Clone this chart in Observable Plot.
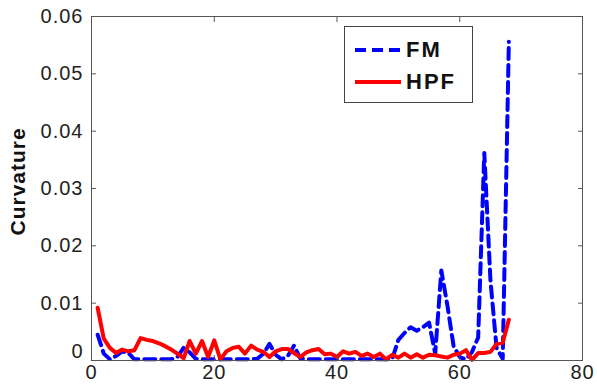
<!DOCTYPE html>
<html>
<head>
<meta charset="utf-8">
<script src="https://cdn.jsdelivr.net/npm/d3@7"></script>
<script src="https://cdn.jsdelivr.net/npm/@observablehq/plot@0.6"></script>
<style>
  body { margin: 0; background: #fff; }
  #wrap { position: relative; width: 597px; height: 388px; }
  #legend { position: absolute; left: 344px; top: 26px; width: 129px; height: 77px;
    border: 1px solid #444; background: #fff; box-sizing: border-box;
    font-family: "Liberation Sans", Arial, sans-serif; font-weight: bold; font-size: 22px; letter-spacing: 2px; color: #111; }
  .row { position: absolute; left: 10px; height: 24px; display: flex; align-items: center; }
  .row svg { margin-right: 5px; }
</style>
</head>
<body>
<div id="wrap"></div>
<script>
const xIndex = [1,2,3,4,5,6,7,8,9,10,11,12,13,14,15,16,17,18,19,20,21,22,23,24,25,26,27,28,29,30,31,32,33,34,35,36,37,38,39,40,41,42,43,44,45,46,47,48,49,50,51,52,53,54,55,56,57,58,59,60,61,62,63,64,65,66,67,68];
const fmValues = [0.0045,0.0012,0.0002,0.0008,0.0016,0.0013,0.0002,0.0002,0.0002,0.0002,0.0002,0.0002,0.0002,0.0006,0.0022,0.0014,0.0003,0.0002,0.0002,0.0002,0.0002,0.0002,0.0002,0.0002,0.0002,0.0002,0.0003,0.0012,0.0029,0.0010,0.0002,0.0008,0.0026,0.0004,0.0002,0.0002,0.0002,0.0002,0.0002,0.0002,0.0002,0.0002,0.0002,0.0002,0.0002,0.0002,0.0002,0.0002,0.0003,0.0036,0.0048,0.0058,0.0052,0.0058,0.0066,0.0012,0.0157,0.0095,0.0025,0.0006,0.0002,0.0015,0.0040,0.0362,0.0140,0.0022,0.0003,0.0556];
const hpfValues = [0.0092,0.0038,0.0022,0.0013,0.0019,0.0016,0.0018,0.0039,0.0036,0.0034,0.0030,0.0025,0.0019,0.0012,0.0004,0.0034,0.0012,0.0034,0.0006,0.0035,0.0002,0.0016,0.0022,0.0024,0.0012,0.0026,0.0019,0.0015,0.0006,0.0016,0.0020,0.0020,0.0013,0.0006,0.0014,0.0018,0.0020,0.0011,0.0012,0.0006,0.0016,0.0012,0.0015,0.0008,0.0012,0.0006,0.0012,0.0002,0.0010,0.0005,0.0012,0.0005,0.0011,0.0005,0.0010,0.0009,0.0007,0.0005,0.0010,0.0012,0.0018,0.0001,0.0013,0.0013,0.0015,0.0029,0.0031,0.0071];
const xTicks = [0,20,40,60,80];
const yTicks = [0.01,0.02,0.03,0.04,0.05,0.06];
const yZeroTick = [0];
const seriesNames = ["FM","HPF"];
const yLabel = "Curvature";

const fm = xIndex.map((x,i)=>({x, y: fmValues[i]}));
const hpf = xIndex.map((x,i)=>({x, y: hpfValues[i]}));

const axisColor = "#555";
const chart = Plot.plot({
  width: 597, height: 388,
  marginLeft: 91, marginRight: 15, marginTop: 16, marginBottom: 28,
  x: {domain: [0,80]},
  y: {domain: [0,0.06]},
  style: {fontFamily: "'Liberation Sans', Arial, sans-serif", fontSize: "20px", color: "#222", background: "#fff", letterSpacing: "1px"},
  marks: [
    Plot.line(fm, {x:"x", y:"y", stroke:"#0000ff", strokeWidth:4, strokeDasharray:"11,6", strokeLinejoin:"round"}),
    Plot.line(hpf, {x:"x", y:"y", stroke:"#ff0000", strokeWidth:4, strokeLinejoin:"round"}),
    Plot.frame({stroke: axisColor}),
    Plot.axisX(xTicks, {anchor:"bottom", tickSize:0, tickPadding:4, label:null, stroke:axisColor}),
    Plot.axisX(xTicks, {anchor:"bottom", tickSize:-5, tickFormat:()=>"", label:null, stroke:axisColor}),
    Plot.axisX(xTicks, {anchor:"top", tickSize:-5, tickFormat:()=>"", label:null, stroke:axisColor}),
    Plot.axisY(yTicks, {anchor:"left", tickSize:0, tickPadding:8, tickFormat: d=>d.toFixed(2), label:null}),
    Plot.axisY(yZeroTick, {anchor:"left", tickSize:0, tickPadding:8, tickFormat: d=>"0", dy:-9, label:null}),
    Plot.axisY(yTicks, {anchor:"left", tickSize:-5, tickFormat:()=>"", label:null, stroke:axisColor}),
    Plot.axisY(yTicks, {anchor:"right", tickSize:-5, tickFormat:()=>"", label:null, stroke:axisColor}),
    Plot.text([yLabel], {frameAnchor:"left", rotate:-90, dx:-73, dy:47, fontWeight:"bold", fontSize:21, fill:"#111"})
  ]
});
const wrap = document.getElementById("wrap");
wrap.appendChild(chart);

const legend = document.createElement("div");
legend.id = "legend";
legend.innerHTML = `
  <div class="row" style="top:11px"><svg width="46" height="10"><line x1="0" y1="5" x2="46" y2="5" stroke="#0000ff" stroke-width="4" stroke-dasharray="11,6"/></svg><span>${seriesNames[0]}</span></div>
  <div class="row" style="top:43px"><svg width="46" height="10"><line x1="0" y1="5" x2="46" y2="5" stroke="#ff0000" stroke-width="4"/></svg><span>${seriesNames[1]}</span></div>`;
wrap.appendChild(legend);
</script>
</body>
</html>
